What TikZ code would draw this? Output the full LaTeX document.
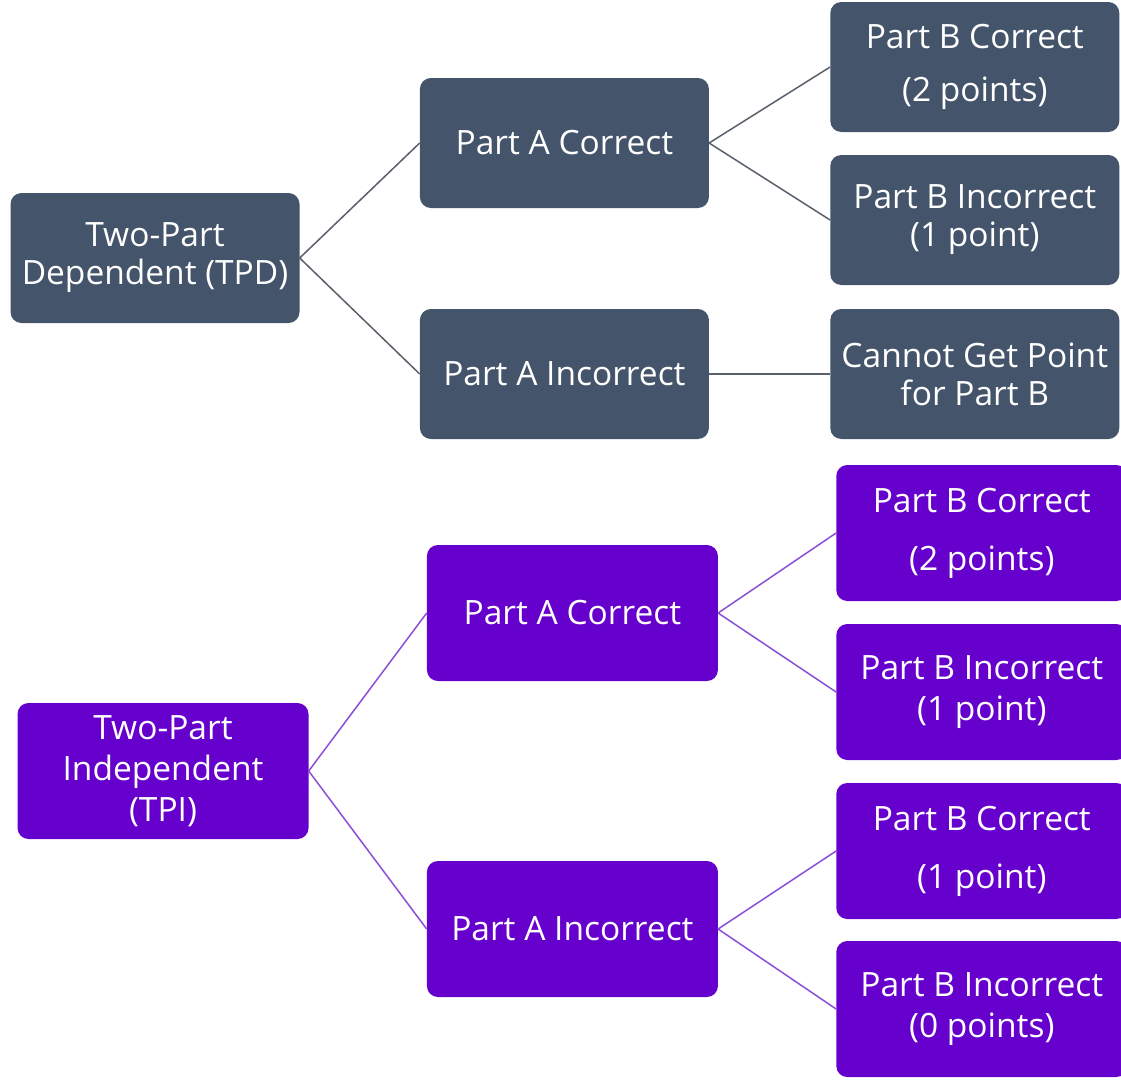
\documentclass[tikz,border=0pt]{standalone}
\usepackage{fontspec}
\setmainfont{Open Sans}
\usetikzlibrary{positioning}

\definecolor{slate}{HTML}{44546A}
\definecolor{violet}{HTML}{6600CC}
\definecolor{violetline}{HTML}{8A4FD6}
\definecolor{slateline}{HTML}{59606B}

\begin{document}
\begin{tikzpicture}[
    x=1pt, y=-1pt,
    node distance=120pt,
    box/.style={rectangle, rounded corners=11pt, text=white, align=center,
        font=\fontsize{33.5}{38}\selectfont, inner sep=0pt},
    greybox/.style={box, fill=slate, minimum width=289pt, minimum height=130pt},
    purplebox/.style={box, fill=violet, minimum width=291pt, minimum height=136pt},
    greyline/.style={draw=slateline, line width=1.5pt},
    purpleline/.style={draw=violetline, line width=1.5pt}
]
\useasboundingbox (0,0) rectangle (1121,1080);

% dependent tree
\node[greybox] (tpd) at (155,258) {Two-Part\\Dependent (TPD)};
\node[greybox, right=120pt of tpd, yshift=115pt] (tpdA) {Part A Correct};
\node[greybox, right=120pt of tpd, yshift=-116pt] (tpdNotA) {Part A Incorrect};
\node[greybox, right=121pt of tpdA, yshift=76pt] (tpdAB) {Part B Correct\\[15pt](2 points)};
\node[greybox, right=121pt of tpdA, yshift=-77pt] (tpdANotB) {Part B Incorrect\\(1 point)};
\node[greybox, right=121pt of tpdNotA] (tpdNone) {Cannot Get Point\\for Part B};

\draw[greyline] (tpd.east) -- (tpdA.west);
\draw[greyline] (tpd.east) -- (tpdNotA.west);
\draw[greyline] (tpdA.east) -- (tpdAB.west);
\draw[greyline] (tpdA.east) -- (tpdANotB.west);
\draw[greyline] (tpdNotA.east) -- (tpdNone.west);

% independent tree
\node[purplebox, font=\fontsize{33.5}{41}\selectfont] (tpi) at (163,771) {Two-Part\\Independent\\(TPI)};
\node[purplebox, right=118pt of tpi, yshift=158pt] (tpiA) {Part A Correct};
\node[purplebox, right=118pt of tpi, yshift=-158pt] (tpiNotA) {Part A Incorrect};
\node[purplebox, right=118pt of tpiA, yshift=80pt] (tpiAB) {Part B Correct\\[20pt](2 points)};
\node[purplebox, right=118pt of tpiA, yshift=-79pt, font=\fontsize{33.5}{41}\selectfont] (tpiANotB) {Part B Incorrect\\(1 point)};
\node[purplebox, right=118pt of tpiNotA, yshift=78pt] (tpiNotAB) {Part B Correct\\[20pt](1 point)};
\node[purplebox, right=118pt of tpiNotA, yshift=-80pt, font=\fontsize{33.5}{41}\selectfont] (tpiNone) {Part B Incorrect\\(0 points)};

\draw[purpleline] (tpi.east) -- (tpiA.west);
\draw[purpleline] (tpi.east) -- (tpiNotA.west);
\draw[purpleline] (tpiA.east) -- (tpiAB.west);
\draw[purpleline] (tpiA.east) -- (tpiANotB.west);
\draw[purpleline] (tpiNotA.east) -- (tpiNotAB.west);
\draw[purpleline] (tpiNotA.east) -- (tpiNone.west);

\end{tikzpicture}
\end{document}
